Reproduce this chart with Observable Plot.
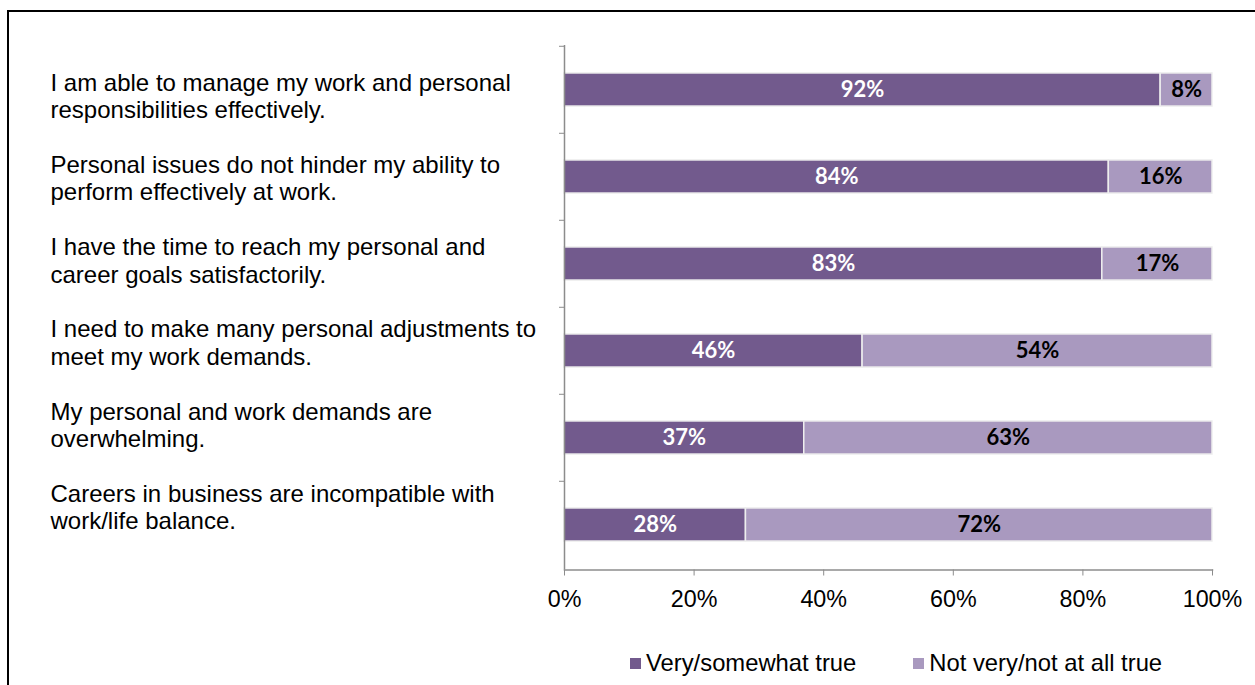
<!DOCTYPE html>
<html>
<head>
<meta charset="utf-8">
<script src="https://cdn.jsdelivr.net/npm/d3@7"></script>
<script src="https://cdn.jsdelivr.net/npm/@observablehq/plot@0.6"></script>
<style>
  html, body { margin: 0; padding: 0; background: #fff; overflow: hidden; }
  #frame { position: absolute; left: 7px; top: 10px; width: 1400px; height: 900px;
           border-left: 2.5px solid #000; border-top: 2px solid #000; }
  #chart { position: absolute; left: 0; top: 0; }
  #legend { position: absolute; left: 630px; top: 651px; display: flex; align-items: center;
            font-family: "Liberation Sans", Arial, sans-serif; font-size: 23.8px; line-height: 24px; color: #000; }
  .item { display: flex; align-items: center; }
  .sw { width: 11px; height: 11px; margin-right: 5px; }
</style>
</head>
<body>
<div id="frame"></div>
<div id="chart"></div>
<div id="legend"></div>
<script>
// ---- data ----
const categories = [
  "I am able to manage my work and personal\nresponsibilities effectively.",
  "Personal issues do not hinder my ability to\nperform effectively at work.",
  "I have the time to reach my personal and\ncareer goals satisfactorily.",
  "I need to make many personal adjustments to\nmeet my work demands.",
  "My personal and work demands are\noverwhelming.",
  "Careers in business are incompatible with\nwork/life balance."
];
const seriesNames = ["Very/somewhat true", "Not very/not at all true"];
const verySomewhat = [92, 84, 83, 46, 37, 28];
const notVery = [8, 16, 17, 54, 63, 72];
const xTicks = [0, 20, 40, 60, 80, 100];
const colors = ["#725a8d", "#a999bf"];

// ---- build table ----
const rows = categories.map((q, i) => ({q, a: verySomewhat[i], b: notVery[i]}));

const W = 1255, H = 640, mL = 564, mR = 43, mT = 45, mB = 70.5;
const step = (H - mB - mT) / categories.length;
const barH = 33.5;
const inset = (step - barH) / 2;

const chart = Plot.plot({
  width: W, height: H,
  marginLeft: mL, marginRight: mR, marginTop: mT, marginBottom: mB,
  style: {fontFamily: "'Liberation Sans', Arial, sans-serif", background: "transparent", overflow: "visible"},
  x: {domain: [0, 100], axis: null},
  y: {domain: categories, padding: 0, axis: null},
  marks: [
    Plot.barX(rows, {y: "q", x1: 0, x2: "a", fill: colors[0], stroke: "#eeeeee", strokeWidth: 1.5, insetTop: inset, insetBottom: inset}),
    Plot.barX(rows, {y: "q", x1: "a", x2: d => d.a + d.b, fill: colors[1], stroke: "#eeeeee", strokeWidth: 1.5, insetTop: inset, insetBottom: inset}),
    Plot.text(rows, {y: "q", x: d => d.a / 2, text: d => d.a + "%", fill: "white", fontFamily: "Lato, 'Noto Sans', sans-serif", fontWeight: 700, fontSize: 22}),
    Plot.text(rows, {y: "q", x: d => d.a + d.b / 2, text: d => d.b + "%", fill: "black", fontFamily: "Lato, 'Noto Sans', sans-serif", fontWeight: 700, fontSize: 22}),
    Plot.ruleX([0], {stroke: "#8c8c8c", strokeWidth: 1.5}),
    Plot.frame({anchor: "bottom", stroke: "#8c8c8c", strokeWidth: 1.5}),
    Plot.axisX({ticks: xTicks, tickFormat: d => d + "%", tickSize: 6, tickPadding: 14.5, stroke: "#8c8c8c", fontSize: 23.3, label: null}),
    Plot.axisY({tickFormat: () => "", tickSize: 5, dy: -step / 2, stroke: "#8c8c8c", label: null}),
    Plot.text([categories.join("\n\n")], {
      frameAnchor: "top-left", lineAnchor: "top", textAnchor: "start",
      dx: 50 - mL, dy: 25.8, fontSize: 24, lineHeight: 27.4 / 24, text: d => d, fill: "black"
    })
  ]
});
document.getElementById("chart").appendChild(chart);

// ---- legend ----
const legend = document.getElementById("legend");
seriesNames.forEach((name, i) => {
  const item = document.createElement("div");
  item.className = "item";
  if (i > 0) item.style.marginLeft = "57px";
  const sw = document.createElement("span");
  sw.className = "sw";
  sw.style.background = colors[i];
  const tx = document.createElement("span");
  tx.textContent = name;
  item.appendChild(sw); item.appendChild(tx);
  legend.appendChild(item);
});
</script>
</body>
</html>
